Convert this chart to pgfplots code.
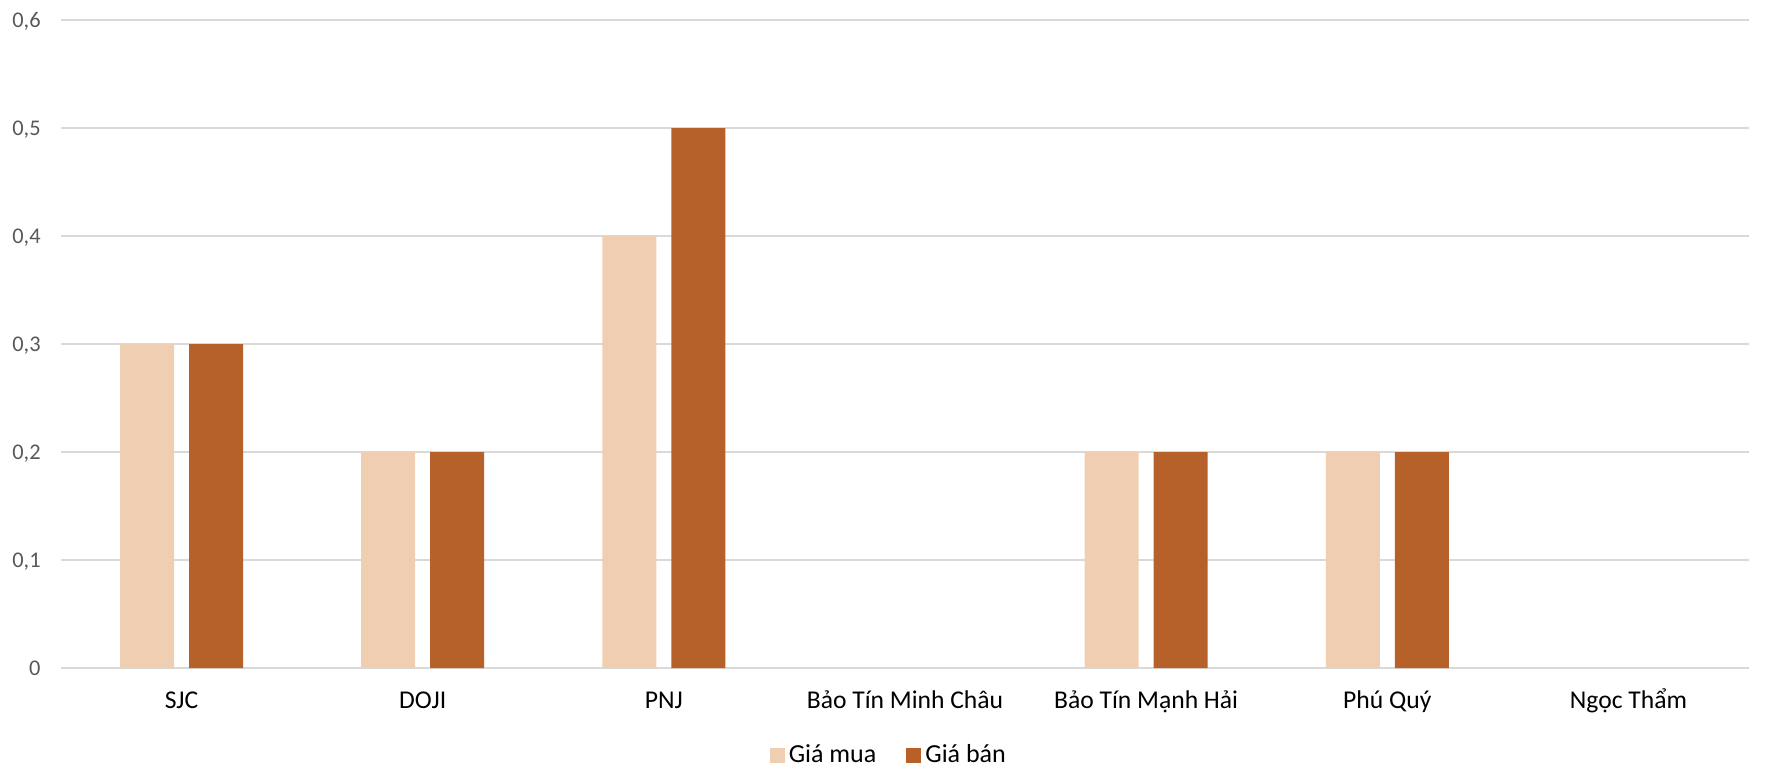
\documentclass[border=0pt]{standalone}
\usepackage{pgfplots}
\pgfplotsset{compat=1.18}
\usepackage{fontspec}
\setmainfont{Carlito}
\definecolor{lightc}{HTML}{F0CEB2}
\definecolor{darkc}{HTML}{B6612A}
\definecolor{gridc}{HTML}{D9D9D9}
\definecolor{tickc}{HTML}{595959}
\begin{document}
\begin{tikzpicture}
\begin{axis}[
 at={(0,0)}, anchor=south west,
 scale only axis, width=844pt, height=324pt,
 xmin=-0.5, xmax=6.5, ymin=0, ymax=0.6,
 ybar=7.5pt, bar width=27pt,
 xtick={0,1,2,3,4,5,6},
 xticklabels={SJC,DOJI,PNJ,Bảo Tín Minh Châu,Bảo Tín Mạnh Hải,Phú Quý,Ngọc Thẩm},
 ytick={0,0.1,0.2,0.3,0.4,0.5,0.6},
 yticklabels={0,{0,1},{0,2},{0,3},{0,4},{0,5},{0,6}},
 axis line style={draw=none}, major tick length=0pt,
 ymajorgrids, grid style={gridc, line width=0.75pt},
 xticklabel style={font=\fontsize{12.8}{15}\selectfont, anchor=base, inner sep=0pt, yshift=-20pt},
 yticklabel style={font=\fontsize{11.2}{13}\selectfont, text=tickc, anchor=base east, inner sep=0pt, xshift=-10pt, yshift=-3.5pt},
 legend columns=2,
 legend style={draw=none, at={(0.491,-0.1343)}, anchor=center, font=\fontsize{13}{15}\selectfont, /tikz/every even column/.append style={column sep=13pt}},
 legend image code/.code={\fill[#1] (0pt,-3.75pt) rectangle (7.5pt,3.75pt);},
 clip=false,
]
\addplot[fill=lightc, draw=none] coordinates {(0,0.3) (1,0.2) (2,0.4) (4,0.2) (5,0.2)};
\addplot[fill=darkc, draw=none] coordinates {(0,0.3) (1,0.2) (2,0.5) (4,0.2) (5,0.2)};
\legend{Giá mua, Giá bán}
\end{axis}
\pgfresetboundingbox
\path[use as bounding box] (-30.5pt,-57pt) rectangle (854.5pt,334pt);
\end{tikzpicture}
\end{document}
